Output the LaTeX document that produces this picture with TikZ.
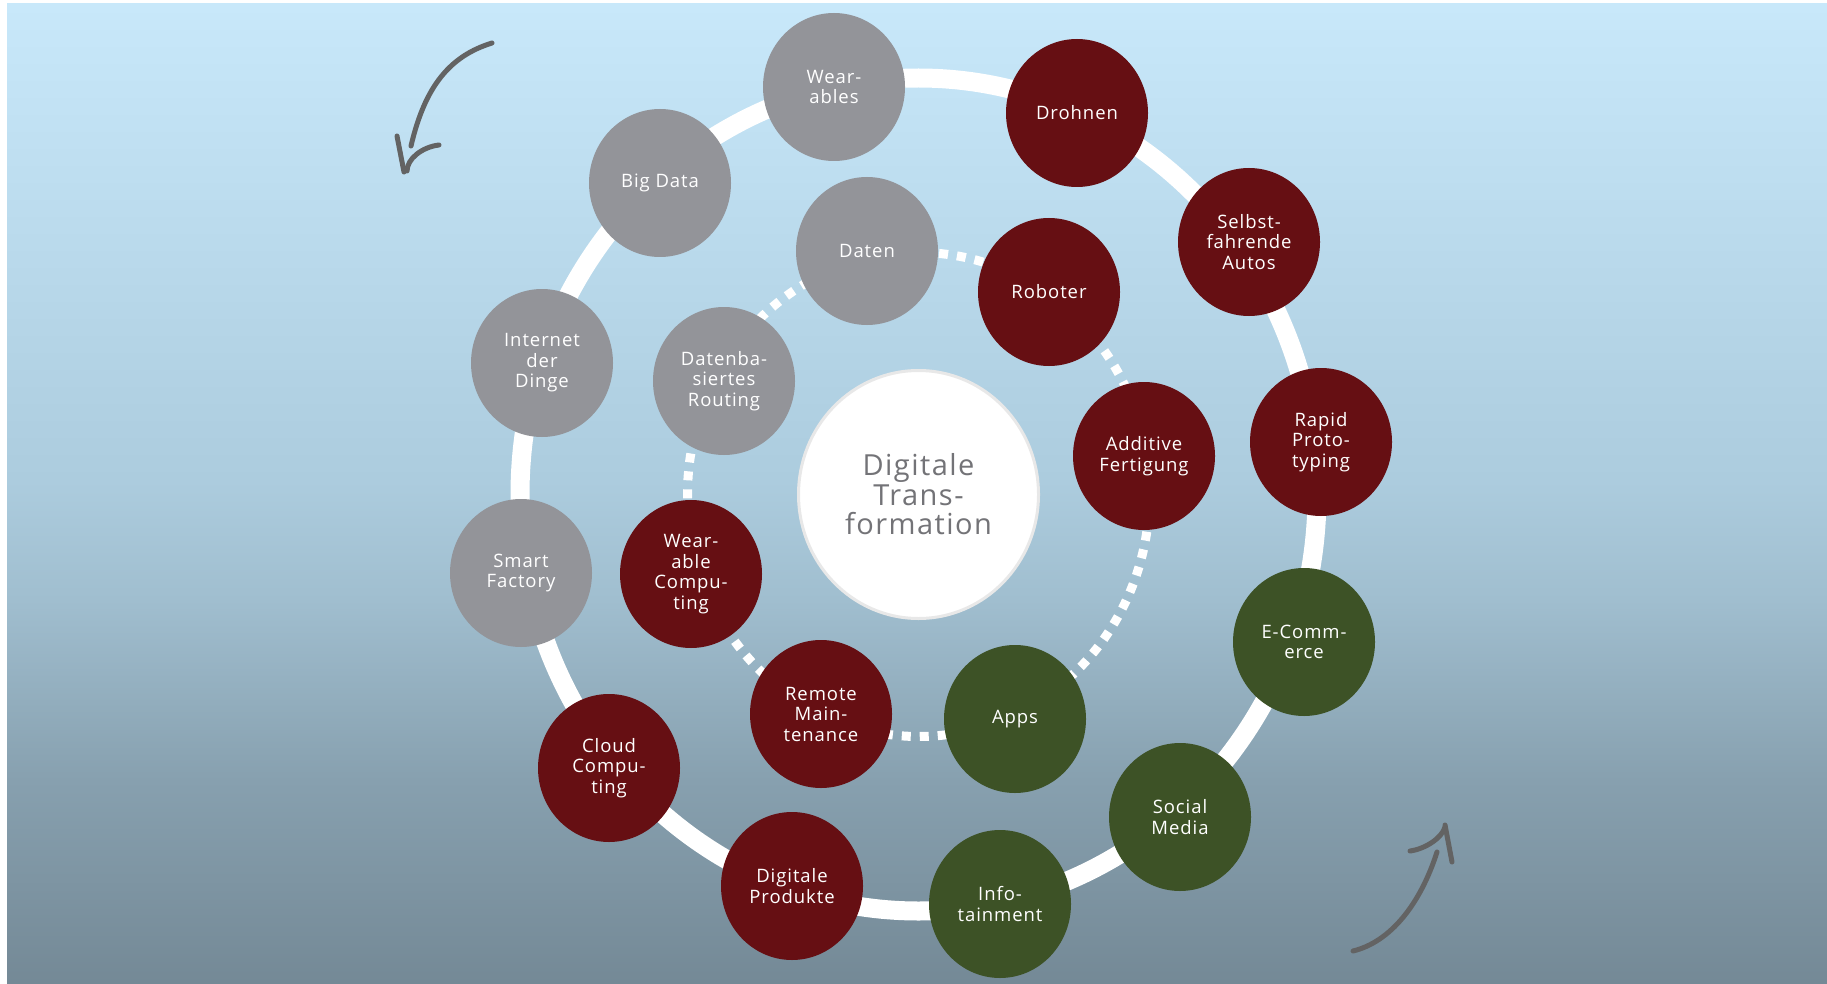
\documentclass[tikz,border=0pt]{standalone}
\usepackage{fontspec}
\setmainfont{Open Sans}[LetterSpace=5.0]
\usetikzlibrary{shapes.geometric}

% palette
\definecolor{bgTop}{RGB}{200,232,250}
\definecolor{bgA}{RGB}{172,204,222}
\definecolor{bgB}{RGB}{160,190,207}
\definecolor{bgC}{RGB}{135,160,175}
\definecolor{bgBot}{RGB}{116,137,150}
\definecolor{bubgrey}{RGB}{147,148,153}
\definecolor{bubred}{RGB}{102,15,19}
\definecolor{bubgreen}{RGB}{61,82,38}
\definecolor{arrowgrey}{RGB}{99,99,99}
\definecolor{centretext}{RGB}{115,115,119}
\definecolor{centrerim}{RGB}{232,232,232}

% sky-to-slate backdrop
\pgfdeclareverticalshading{backdrop}{100bp}{%
  color(0bp)=(bgBot); color(25bp)=(bgBot); color(35.4bp)=(bgC);
  color(44.6bp)=(bgB); color(50.7bp)=(bgA); color(75bp)=(bgTop);
  color(100bp)=(bgTop)}

\tikzset{
  bubble/.style={ellipse, minimum width=142pt, minimum height=148pt,
    inner sep=0pt, text=white, align=center,
    font=\fontsize{18.5}{20.5}\selectfont},
  greybub/.style={bubble, fill=bubgrey},
  redbub/.style={bubble, fill=bubred},
  greenbub/.style={bubble, fill=bubgreen},
  hub/.style={ellipse, minimum width=240pt, minimum height=248pt,
    inner sep=0pt, fill=white, draw=centrerim, line width=3pt,
    text=centretext, align=center, font=\fontsize{29}{29.5}\selectfont},
  outerring/.style={draw=white, line width=19pt},
  innerring/.style={draw=white, line width=9pt, dash pattern=on 9pt off 9pt},
  sketcharrow/.style={draw=arrowgrey, line width=5pt, line cap=round, line join=round},
}

\begin{document}
\begin{tikzpicture}[x=1pt, y=-1pt]
  \useasboundingbox (0,0) rectangle (1827,984);
  \fill[shading=backdrop] (7,4) rectangle (1827,984);

  \coordinate (mid) at (918.5,494.5);

  % the two rings
  \draw[outerring] (mid) ellipse [x radius=398.5pt, y radius=416.5pt];
  \draw[innerring] (mid) ellipse [x radius=231pt, y radius=242pt];

  % centre
  \node[hub] (hub) at (mid) {Digitale\\Trans-\\formation};

  % outer ring
  \node[greybub]  (wearables) at (834,87)   {Wear-\\ables};
  \node[redbub]   (drohnen)   at (1077,113) {Drohnen};
  \node[redbub]   (autos)     at (1249,242) {Selbst-\\fahrende\\Autos};
  \node[redbub]   (rapid)     at (1321,442) {Rapid\\Proto-\\typing};
  \node[greenbub] (ecommerce) at (1304,642) {E-Comm-\\erce};
  \node[greenbub] (social)    at (1180,817) {Social\\Media};
  \node[greenbub] (info)      at (1000,904) {Info-\\tainment};
  \node[redbub]   (produkte)  at (792,886)  {Digitale\\Produkte};
  \node[redbub]   (cloud)     at (609,768)  {Cloud\\Compu-\\ting};
  \node[greybub]  (factory)   at (521,573)  {Smart\\Factory};
  \node[greybub]  (iot)       at (542,363)  {Internet\\der\\Dinge};
  \node[greybub]  (bigdata)   at (660,183)  {Big Data};

  % inner ring
  \node[greybub]  (daten)     at (867,251)  {Daten};
  \node[redbub]   (roboter)   at (1049,292) {Roboter};
  \node[redbub]   (additive)  at (1144,456) {Additive\\Fertigung};
  \node[greenbub] (apps)      at (1015,719) {Apps};
  \node[redbub]   (remote)    at (821,714)  {Remote\\Main-\\tenance};
  \node[redbub]   (wearcomp)  at (691,574)  {Wear-\\able\\Compu-\\ting};
  \node[greybub]  (routing)   at (724,381)  {Datenba-\\siertes\\Routing};

  % hand-drawn arrow, top left
  \coordinate (tlA) at (492,43);
  \coordinate (tlB) at (411,146);
  \coordinate (tlC) at (397,136);
  \coordinate (tlD) at (404,172);
  \coordinate (tlE) at (439,145);
  \coordinate (tlF) at (407,171);
  \draw[sketcharrow] (tlA) .. controls (450,56) and (425,86) .. (tlB);
  \draw[sketcharrow] (tlC) -- (tlD);
  \draw[sketcharrow] (tlE) .. controls (422,147) and (407,159) .. (tlF);

  % hand-drawn arrow, bottom right
  \coordinate (brA) at (1353,951);
  \coordinate (brB) at (1437,852);
  \coordinate (brC) at (1452,862);
  \coordinate (brD) at (1445,825);
  \coordinate (brE) at (1410,851);
  \coordinate (brF) at (1445,827);
  \draw[sketcharrow] (brA) .. controls (1390,942) and (1420,905) .. (brB);
  \draw[sketcharrow] (brC) -- (brD);
  \draw[sketcharrow] (brE) .. controls (1425,849) and (1442,838) .. (brF);
\end{tikzpicture}
\end{document}
